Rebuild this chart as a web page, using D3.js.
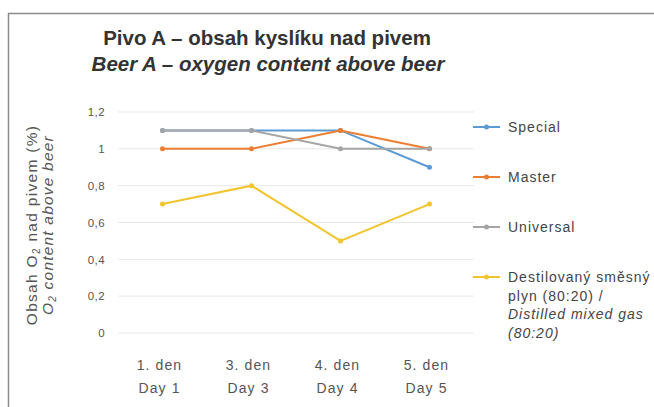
<!DOCTYPE html>
<html><head><meta charset="utf-8">
<script src="https://cdn.jsdelivr.net/npm/d3@7"></script>
<style>body{margin:0;background:#fff}svg{display:block;font-family:"Liberation Sans",Arial,sans-serif}</style>
</head><body>
<svg id="c" width="654" height="407"></svg>
<script>
const categories = ["1. den|Day 1", "3. den|Day 3", "4. den|Day 4", "5. den|Day 5"];
const special = [1.1, 1.1, 1.1, 0.9];
const master = [1.0, 1.0, 1.1, 1.0];
const universal = [1.1, 1.1, 1.0, 1.0];
const destil = [0.7, 0.8, 0.5, 0.7];
const yTicks = [0, 0.2, 0.4, 0.6, 0.8, 1, 1.2];
const seriesNames = ["Special", "Master", "Universal", "Destilovaný směsný|plyn (80:20) /|*Distilled mixed gas|*(80:20)"];
const seriesColors = ["#5B9BD5", "#ED7D31", "#A5A5A5", "#F2C42E"];

const series = [special, master, universal, destil].map((v, i) => ({name: seriesNames[i], color: seriesColors[i], values: v}));

const svg = d3.select("#c");
svg.append("rect").attr("x", 8.5).attr("y", 13.5).attr("width", 660).attr("height", 410)
  .attr("fill", "#fff").attr("stroke", "#8a8a8a").attr("stroke-width", 1.5);

svg.append("text").attr("x", 267).attr("y", 45).attr("text-anchor", "middle")
  .attr("font-size", 20.5).attr("font-weight", "bold").attr("fill", "#333")
  .text("Pivo A – obsah kyslíku nad pivem");
svg.append("text").attr("x", 268).attr("y", 71).attr("text-anchor", "middle")
  .attr("font-size", 20.5).attr("font-weight", "bold").attr("font-style", "italic").attr("fill", "#333")
  .text("Beer A – oxygen content above beer");

const x = d3.scaleBand().domain(categories).range([118, 474]);
const y = d3.scaleLinear().domain([0, 1.2]).range([333, 112]);

const grid = svg.append("g");
grid.selectAll("line").data(yTicks).join("line")
  .attr("x1", 118).attr("x2", 474).attr("y1", d => y(d)).attr("y2", d => y(d))
  .attr("stroke", "#e8e8e8").attr("stroke-width", 1);

const yAxis = d3.axisLeft(y).tickValues(yTicks).tickSize(0).tickPadding(0)
  .tickFormat(d => String(d).replace(".", ","));
const ya = svg.append("g").attr("transform", "translate(105,0)").call(yAxis);
ya.select(".domain").remove();
ya.selectAll("text").attr("font-size", 11.5).attr("letter-spacing", 0.4).attr("fill", "#555")
  .attr("font-family", "Liberation Sans, Arial, sans-serif");

const xAxis = d3.axisBottom(x).tickSize(0).tickFormat(() => "");
const xa = svg.append("g").attr("transform", "translate(0,333)").call(xAxis);
xa.select(".domain").remove();
xa.selectAll(".tick").each(function(d) {
  const parts = d.split("|");
  const t = d3.select(this).append("text").attr("text-anchor", "middle").attr("fill", "#555")
    .attr("font-size", 14).attr("letter-spacing", 1.1).attr("font-family", "Liberation Sans, Arial, sans-serif");
  t.append("tspan").attr("x", -3).attr("y", 37).text(parts[0]);
  t.append("tspan").attr("x", -3).attr("y", 60).text(parts[1]);
});

const line = d3.line().x((d, i) => x(categories[i]) + x.bandwidth() / 2).y(d => y(d));
const sg = svg.append("g");
series.forEach(s => {
  sg.append("path").attr("d", line(s.values)).attr("fill", "none")
    .attr("stroke", s.color).attr("stroke-width", 2);
  sg.selectAll(null).data(s.values).join("circle")
    .attr("cx", (d, i) => x(categories[i]) + x.bandwidth() / 2).attr("cy", d => y(d))
    .attr("r", 2.5).attr("fill", s.color);
});

// y axis title
const yt = svg.append("text").attr("transform", "translate(37,225) rotate(-90)").attr("text-anchor", "middle")
  .attr("font-size", 15.5).attr("letter-spacing", 1.3).attr("fill", "#555");
yt.append("tspan").text("Obsah O");
yt.append("tspan").attr("font-size", 10).attr("dy", 3).text("2");
yt.append("tspan").attr("dy", -3).text(" nad pivem (%)");
const yt2 = svg.append("text").attr("transform", "translate(53,225) rotate(-90)").attr("text-anchor", "middle")
  .attr("font-size", 15.5).attr("letter-spacing", 1.2).attr("font-style", "italic").attr("fill", "#555");
yt2.append("tspan").text("O");
yt2.append("tspan").attr("font-size", 10).attr("dy", 3).text("2");
yt2.append("tspan").attr("dy", -3).text(" content above beer");

// legend
const legY = [127, 177, 227, 277];
series.forEach((s, i) => {
  const g = svg.append("g").attr("transform", `translate(0,${legY[i]})`);
  g.append("line").attr("x1", 473).attr("x2", 500).attr("stroke", s.color).attr("stroke-width", 2);
  g.append("circle").attr("cx", 486.5).attr("r", 2.5).attr("fill", s.color);
  const t = g.append("text").attr("font-size", 14).attr("letter-spacing", 1).attr("fill", "#444");
  s.name.split("|").forEach((p, j) => {
    const it = p.startsWith("*");
    t.append("tspan").attr("x", 508).attr("y", 5 + j * 18.5)
      .attr("font-style", it ? "italic" : "normal").text(it ? p.slice(1) : p);
  });
});
</script>
</body></html>
